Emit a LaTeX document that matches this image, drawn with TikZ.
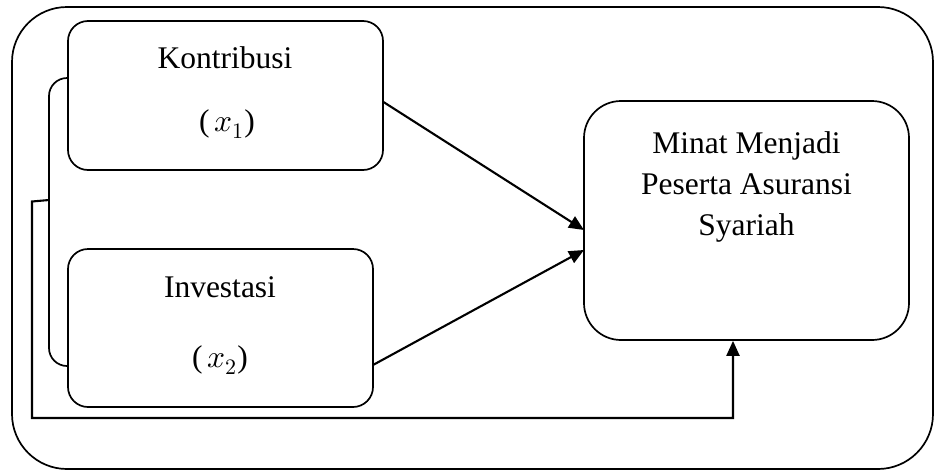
\documentclass[tikz,border=0pt]{standalone}
\usepackage{unicode-math}
\setmainfont{Liberation Serif}
\setmathfont{Latin Modern Math}
\usetikzlibrary{arrows.meta}
\begin{document}
\begin{tikzpicture}[x=1pt,y=-1pt,
  box/.style={draw, line width=1.7pt, rectangle, inner sep=0pt},
  lbl/.style={anchor=base, inner sep=0pt, font=\fontsize{31.5}{41}\selectfont, align=center},
  arr/.style={line width=2.1pt, -{Triangle[length=15pt,width=13pt]}}]
\useasboundingbox (0,0) rectangle (938,472);
% outer frame
\node[box, rounded corners=55pt, minimum width=921pt, minimum height=462pt] (outer) at (472.5,238) {};
% boxes
\node[box, rounded corners=20pt, minimum width=315pt, minimum height=149pt] (k) at (225.5,95.5) {};
\node[box, rounded corners=20pt, minimum width=305pt, minimum height=158pt] (i) at (220.5,328) {};
\node[box, rounded corners=37pt, minimum width=325pt, minimum height=239pt] (m) at (746.5,220.5) {};
% labels
\node[lbl] (kt) at (225,68) {Kontribusi};
\node[lbl] (kx) at (227,131) {(\,$x_1$)};
\node[lbl] (it) at (220,297) {Investasi};
\node[lbl] (ix) at (220,367) {(\,$x_2$)};
\node[lbl] (mt) at (746.5,235) {Minat Menjadi\\Peserta Asuransi\\Syariah};
% bracket
\coordinate (b1) at (68,78);
\coordinate (b2) at (68,366);
\draw[line width=1.7pt, rounded corners=18pt] (b1) -- (49,78) -- (49,366) -- (b2);
% feedback line
\coordinate (f0) at (49,200);
\coordinate (f1) at (32,201.5);
\coordinate (f2) at (32,418);
\coordinate (f3) at (733,418);
\draw[arr] (f0) -- (f1) -- (f2) -- (f3) -- (f3 |- m.south);
% arrows
\coordinate (a1) at (383,101.7);
\coordinate (a2) at (584,230);
\coordinate (a3) at (373,365);
\coordinate (a4) at (584,250);
\draw[arr] (a1) -- (a2);
\draw[arr] (a3) -- (a4);
\end{tikzpicture}
\end{document}
